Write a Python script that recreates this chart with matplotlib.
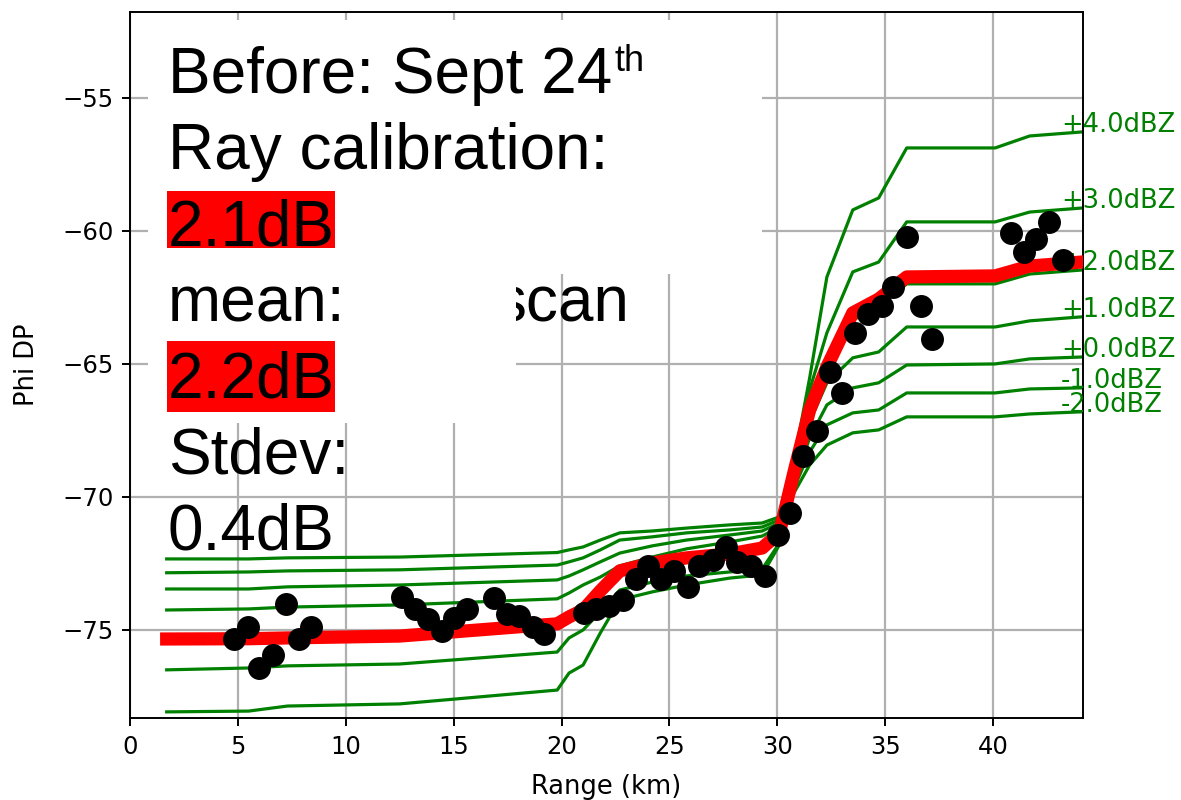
import matplotlib
matplotlib.use("Agg")
import matplotlib.pyplot as plt
from matplotlib.patches import Rectangle

# range knots (km) shared by all simulated Phi DP curves
range_km = [1.7, 5.5, 7.3, 12.5, 19.8, 20.35, 21.0, 21.8, 22.7, 24.2, 25.8, 27.8,
            29.3, 30.1, 30.8, 31.5, 32.3, 33.5, 34.7, 36.0, 40.1, 41.7, 44.1]

# simulated Phi DP for each calibration offset
offsets = ["+4.0dBZ", "+3.0dBZ", "+2.0dBZ", "+1.0dBZ", "+0.0dBZ", "-1.0dBZ", "-2.0dBZ"]
phi_p4 = [-78.08, -78.05, -77.86, -77.78, -77.26, -76.62, -76.32, -75.11, -73.87, -73.57, -73.31, -73.05,
          -72.93, -71.80, -68.53, -65.53, -61.73, -59.21, -58.76, -56.88, -56.88, -56.43, -56.28]
phi_p3 = [-76.50, -76.43, -76.35, -76.28, -75.83, -75.30, -75.00, -74.32, -73.50, -73.20, -72.97, -72.82,
          -72.71, -71.73, -68.80, -65.98, -63.83, -61.54, -61.17, -59.66, -59.66, -59.29, -59.14]
phi_p2 = [-75.19, -75.19, -75.15, -75.08, -74.62, -74.32, -74.06, -73.42, -72.71, -72.37, -72.14, -71.99,
          -71.77, -71.28, -68.95, -66.80, -65.30, -63.35, -62.86, -61.99, -61.99, -61.62, -61.47]
phi_p1 = [-74.25, -74.21, -74.14, -74.06, -73.83, -73.61, -73.31, -73.01, -72.59, -72.26, -71.95, -71.69,
          -71.47, -71.13, -69.21, -67.18, -65.71, -64.77, -64.55, -63.61, -63.61, -63.38, -63.23]
phi_p0 = [-73.46, -73.46, -73.38, -73.31, -73.12, -72.97, -72.74, -72.44, -72.11, -71.84, -71.62, -71.43,
          -71.28, -70.98, -69.44, -67.78, -66.54, -65.90, -65.71, -65.04, -65.00, -64.81, -64.74]
phi_m1 = [-72.85, -72.82, -72.78, -72.74, -72.56, -72.44, -72.29, -71.99, -71.62, -71.50, -71.35, -71.24,
          -71.13, -70.86, -69.62, -68.31, -67.29, -66.84, -66.73, -66.09, -66.09, -65.94, -65.90]
phi_m2 = [-72.33, -72.33, -72.29, -72.26, -72.09, -71.99, -71.88, -71.62, -71.35, -71.28, -71.17, -71.05,
          -70.98, -70.75, -69.81, -68.80, -68.05, -67.59, -67.48, -66.99, -66.99, -66.88, -66.80]
curves = [phi_p4, phi_p3, phi_p2, phi_p1, phi_p0, phi_m1, phi_m2]

# best fit (2.1dB)
phi_fit = [-75.34, -75.33, -75.30, -75.23, -74.77, -74.51, -74.25, -73.53, -72.78, -72.48, -72.29, -72.14,
           -71.92, -71.35, -68.98, -66.73, -65.11, -63.08, -62.56, -61.73, -61.69, -61.32, -61.17]

# observed Phi DP
obs_range = [4.83, 5.46, 5.98, 6.61, 7.22, 7.85, 8.40, 12.59, 13.21, 13.83, 14.45, 15.00, 15.61,
             16.87, 17.46, 18.04, 18.67, 19.19, 21.04, 21.60, 22.22, 22.83, 23.45, 23.99, 24.61,
             25.21, 25.84, 26.37, 27.00, 27.62, 28.13, 28.78, 29.43, 30.03, 30.57, 31.19, 31.83,
             32.44, 32.99, 33.60, 34.22, 34.84, 35.38, 36.00, 36.65, 37.16, 40.81, 41.44, 41.99,
             42.61, 43.23]
obs_phi = [-75.33, -74.90, -76.42, -75.93, -74.02, -75.33, -74.90, -73.75, -74.22, -74.60, -75.04,
           -74.54, -74.22, -73.81, -74.40, -74.47, -74.90, -75.16, -74.36, -74.21, -74.10, -73.87,
           -73.08, -72.59, -73.08, -72.78, -73.38, -72.59, -72.37, -71.87, -72.43, -72.59, -72.97,
           -71.43, -70.62, -68.46, -67.52, -65.29, -66.08, -63.85, -63.13, -62.84, -62.11, -60.23,
           -62.84, -64.06, -60.08, -60.79, -60.31, -59.66, -61.09]

W, H = 1181, 800
fig = plt.figure(figsize=(W / 100, H / 100), dpi=100)
ax = fig.add_axes([130 / W, 82 / H, 953 / W, 706 / H])

for phi, lab in zip(curves, offsets):
    ax.plot(range_km, phi, color="green", lw=2.3)
    ax.text(43.15, phi[-1], lab, color="green", fontsize=18.5, ha="left", va="baseline", clip_on=False)
ax.plot(range_km, phi_fit, color="red", lw=9.5, zorder=3)
ax.plot(obs_range, obs_phi, "o", color="black", ms=15.5, zorder=4)

ax.set_xlim(0, 44.17)
ax.set_ylim(-78.31, -51.77)
ax.set_xticks([0, 5, 10, 15, 20, 25, 30, 35, 40])
ax.set_yticks([-75, -70, -65, -60, -55])
ax.grid(True, color="#b0b0b0", lw=1.6)
ax.tick_params(labelsize=17.5, length=6, width=1.4, pad=6)
for s in ax.spines.values():
    s.set_linewidth(1.4)
ax.set_xlabel("Range (km)", fontsize=18.5, va="center")
ax.set_ylabel("Phi DP", fontsize=18.5, va="center")
ax.xaxis.set_label_coords(0.5, (718 - 787) / 706)
ax.yaxis.set_label_coords((27 - 130) / 953, 0.5)


def fx(px):
    return px / W


def fy(py):
    return 1 - py / H


def box(x0, y0, x1, y1, color, z):
    fig.patches.append(Rectangle((fx(x0), fy(y1)), fx(x1) - fx(x0), fy(y0) - fy(y1),
                                 transform=fig.transFigure, facecolor=color,
                                 edgecolor="none", zorder=z))


# overlaid annotation
tf = "Liberation Sans"
fs = 46
fig.text(fx(494), fy(321), "scan", fontsize=fs, family=tf, va="baseline", zorder=1.5)
box(148, 20, 762, 274, "white", 2)
box(148, 274, 516, 423, "white", 2)
box(167, 191, 335, 248, "red", 2.5)
box(167, 341, 335, 412, "red", 2.5)
lines = ["Before: Sept 24", "Ray calibration:", "2.1dB", "mean:", "2.2dB", "Stdev:", "0.4dB"]
first = None
for i, t in enumerate(lines):
    txt = fig.text(fx(168), fy(93 + 76 * i), t, fontsize=fs, family=tf, va="baseline", zorder=3)
    if first is None:
        first = txt
fig.canvas.draw()
x_end = first.get_window_extent().x1
fig.text(x_end / W + 0.002, fy(71), "th", fontsize=26, family=tf, va="baseline", zorder=3)

fig.savefig("out.png", dpi=100)
